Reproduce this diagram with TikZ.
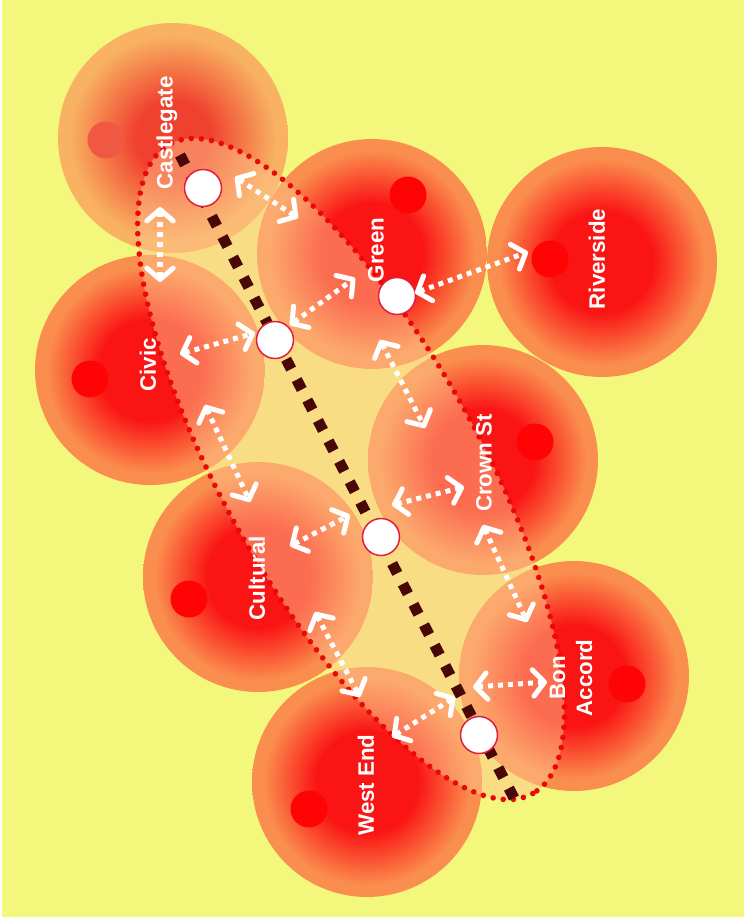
\documentclass[tikz,border=0pt]{standalone}
\usepackage{fontspec}
\setsansfont{Liberation Sans}
\usetikzlibrary{arrows.meta, positioning, calc}

\definecolor{mapyellow}{RGB}{243,247,124}
\definecolor{zonered}{RGB}{250,20,20}
\definecolor{zoneorange}{RGB}{250,142,78}
\definecolor{zonedotred}{RGB}{255,4,4}
\definecolor{fadedred}{RGB}{240,64,46}
\definecolor{fadedorange}{RGB}{248,178,98}
\definecolor{fadeddot}{RGB}{240,88,66}
\definecolor{hubfill}{RGB}{255,196,140}
\definecolor{ringred}{RGB}{235,8,8}
\definecolor{tramdark}{RGB}{72,8,8}
\definecolor{stopedge}{RGB}{225,30,60}

\pgfdeclareradialshading{zoneglow}{\pgfpoint{0bp}{0bp}}{color(0bp)=(zonered); color(11bp)=(zonered); color(22.5bp)=(zoneorange); color(25bp)=(zoneorange); color(50bp)=(zoneorange)}
\pgfdeclareradialshading{zonefaded}{\pgfpoint{0bp}{0bp}}{color(0bp)=(fadedred); color(8bp)=(fadedred); color(22.5bp)=(fadedorange); color(25bp)=(fadedorange); color(50bp)=(fadedorange)}

\tikzset{
    zone/.style={circle, minimum size=4.6cm, inner sep=0pt, shade, shading=zoneglow},
    fadedzone/.style={zone, shading=zonefaded},
    zonedot/.style={circle, minimum size=0.74cm, inner sep=0pt, fill=zonedotred},
    zonelabel/.style={rotate=90, text=white, align=center,
        font=\sffamily\bfseries\fontsize{12.7}{15.3}\selectfont},
    halt/.style={circle, minimum size=0.74cm, inner sep=0pt, fill=white, draw=stopedge, line width=0.85pt},
    tramline/.style={draw=tramdark, line width=6.2pt, dash pattern=on 6.3pt off 6.8pt},
    % two-way walking links between zones and halts
    link/.style={draw=white, line width=2.85pt, dash pattern=on 2.85pt off 2.85pt,
        {Straight Barb[length=6.5pt, width=15pt, round]}-{Straight Barb[length=6.5pt, width=15pt, round]}},
    hubring/.style={draw=ringred, line width=3.2pt, dash pattern=on 0pt off 5.8pt, line cap=round,
        fill=hubfill, fill opacity=0.5},
}

\begin{document}
\begin{tikzpicture}[x=0.02cm, y=-0.02cm]
    \useasboundingbox (0,0) rectangle (744,922);
    \fill[white] (0,0) rectangle (744,922);
    \fill[mapyellow] (2,0) rectangle (744,917);

    % zones
    \node[fadedzone] (castlegate) at (173,138) {};
    \node[zone]      (riverside)  at (602,262) {};
    \node[zone]      (green)      at (372,254) {};
    \node[zone]      (civic)      at (150,370) {};
    \node[zone]      (crownst)    at (483,460) {};
    \node[zone]      (cultural)   at (258,577) {};
    \node[zone]      (bonaccord)  at (574,676) {};
    \node[zone]      (westend)    at (367,782) {};

    \node[zonedot, fill=fadeddot] (castlegate-dot) at ([shift={(-67,2)}]castlegate.center) {};
    \node[zonedot] (riverside-dot) at ([shift={(-52,-3)}]riverside.center) {};
    \node[zonedot] (green-dot)     at ([shift={(36,-59)}]green.center) {};
    \node[zonedot] (civic-dot)     at ([shift={(-60,9)}]civic.center) {};
    \node[zonedot] (crownst-dot)   at ([shift={(52,-18)}]crownst.center) {};
    \node[zonedot] (cultural-dot)  at ([shift={(-69,22)}]cultural.center) {};
    \node[zonedot] (bonaccord-dot) at ([shift={(53,8)}]bonaccord.center) {};
    \node[zonedot] (westend-dot)   at ([shift={(-58,27)}]westend.center) {};

    % hub area
    \coordinate (hubcentre) at (351,469);
    \draw[hubring, rotate around={-60.75:(hubcentre)}] (hubcentre) ellipse [x radius=372, y radius=128];

    \coordinate (tramtop) at (180,155);
    \coordinate (trambottom) at (515,800);
    \draw[tramline] (tramtop) -- (trambottom);

    \node[halt] (halt1)     at (203,188) {};
    \node[halt] (halt2)     at (275,340) {};
    \node[halt] (halt3)     at (381,537) {};
    \node[halt] (halt4)     at (479,735) {};
    \node[halt] (haltgreen) at (397,296) {};

    \draw[link] ([shift={(32,-11)}]halt1.center)     -- ([shift={(-74,-36)}]green.center);
    \draw[link] ([shift={(-13,69)}]castlegate.center) -- ([shift={(10,-88)}]civic.center);
    \draw[link] ([shift={(30,-16)}]civic.center)     -- ([shift={(-20,-7)}]halt2.center);
    \draw[link] ([shift={(15,-15)}]halt2.center)     -- ([shift={(-17,24)}]green.center);
    \draw[link] ([shift={(18,-3)}]haltgreen.center)  -- ([shift={(-74,-10)}]riverside.center);
    \draw[link] ([shift={(8,86)}]green.center)       -- ([shift={(-58,-32)}]crownst.center);
    \draw[link] ([shift={(55,35)}]civic.center)      -- ([shift={(-8,-75)}]cultural.center);
    \draw[link] ([shift={(32,-31)}]cultural.center)  -- ([shift={(-31,-22)}]halt3.center);
    \draw[link] ([shift={(11,-32)}]halt3.center)     -- ([shift={(-19,27)}]crownst.center);
    \draw[link] ([shift={(0,65)}]crownst.center)     -- ([shift={(-47,-54)}]bonaccord.center);
    \draw[link] ([shift={(57,35)}]cultural.center)   -- ([shift={(-7,-85)}]westend.center);
    \draw[link] ([shift={(-6,-48)}]halt4.center)     -- ([shift={(-27,6)}]bonaccord.center);
    \draw[link] ([shift={(25,-45)}]westend.center)   -- ([shift={(-24,-38)}]halt4.center);

    % zone names
    \node[zonelabel] (castlegate-name) at ([shift={(-6,-5)}]castlegate.center) {Castlegate};
    \node[zonelabel] (riverside-name)  at ([shift={(-5,-3)}]riverside.center) {Riverside};
    \node[zonelabel] (green-name)      at ([shift={(4,-4)}]green.center) {Green};
    \node[zonelabel] (civic-name)      at ([shift={(-2,-5)}]civic.center) {Civic};
    \node[zonelabel] (crownst-name)    at ([shift={(1,3)}]crownst.center) {Crown St};
    \node[zonelabel] (cultural-name)   at ([shift={(-1,1)}]cultural.center) {Cultural};
    \node[zonelabel] (bonaccord-name)  at ([shift={(-3,2)}]bonaccord.center) {Bon\\Accord};
    \node[zonelabel] (westend-name)    at ([shift={(-1,3)}]westend.center) {West End};
\end{tikzpicture}
\end{document}
